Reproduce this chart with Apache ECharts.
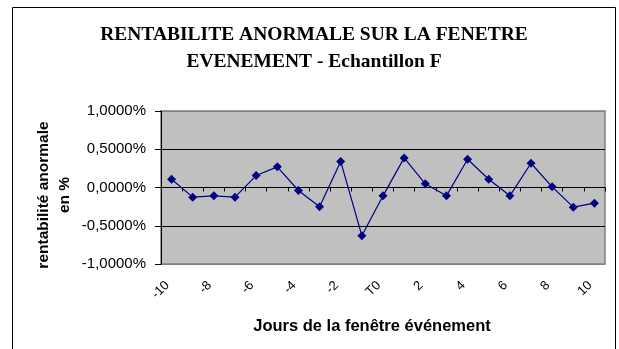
<!DOCTYPE html>
<html>
<head>
<meta charset="utf-8">
<script src="https://cdn.jsdelivr.net/npm/echarts@6/dist/echarts.min.js"></script>
<style>
  html, body { margin: 0; padding: 0; background: #fff; }
  #chart { width: 619px; height: 349px; }
</style>
</head>
<body>
<div id="chart"></div>
<script>
// Event-window days, T0 = event day
const days = ['-10','-9','-8','-7','-6','-5','-4','-3','-2','-1','T0','1','2','3','4','5','6','7','8','9','10'];
// Abnormal return per day, in percent
const abnormalReturn = [0.108, -0.126, -0.109, -0.126, 0.156, 0.270, -0.039, -0.252, 0.339, -0.630,
                        -0.109, 0.387, 0.048, -0.109, 0.369, 0.108, -0.109, 0.317, 0.009, -0.257, -0.205];
const yMin = -1, yMax = 1, yStep = 0.5;

const titleText = 'RENTABILITE ANORMALE SUR LA FENETRE\nEVENEMENT - Echantillon F';
const xTitle = 'Jours de la fenêtre événement';
const yTitle = 'rentabilité anormale\nen %';

const fmtPct = v => v.toFixed(4).replace('.', ',').replace('-0,0000', '0,0000') + '%';

const chart = echarts.init(document.getElementById('chart'), null, { renderer: 'canvas' });
chart.setOption({
  animation: false,
  backgroundColor: '#ffffff',
  grid: {
    left: 161, right: 14, top: 111, height: 153,
    show: true, backgroundColor: '#c0c0c0', borderColor: '#808080', borderWidth: 1.5
  },
  xAxis: [
    {
      type: 'category', data: days, position: 'bottom', boundaryGap: true,
      axisLine: { show: false, onZero: false },
      axisTick: { show: false },
      axisLabel: {
        interval: 1, rotate: 45, margin: 15, padding: [0, 6, 0, 0],
        fontFamily: 'Arial, "Liberation Sans", sans-serif', fontSize: 13, color: '#000'
      }
    },
    {
      type: 'category', data: days, position: 'bottom', boundaryGap: true,
      axisLine: { show: true, onZero: true, lineStyle: { color: '#000', width: 1 } },
      axisTick: { show: true, interval: 0, length: 4, inside: false, lineStyle: { color: '#000' } },
      axisLabel: { show: false }
    }
  ],
  yAxis: {
    type: 'value', min: yMin, max: yMax, interval: yStep,
    axisLine: { show: true, lineStyle: { color: '#000', width: 1 } },
    axisTick: { show: true, length: 6, lineStyle: { color: '#000' } },
    axisLabel: {
      formatter: fmtPct, margin: 15,
      fontFamily: 'Arial, "Liberation Sans", sans-serif', fontSize: 15, color: '#000'
    },
    splitLine: { show: true, lineStyle: { color: ['#808080', '#000', '#000', '#000', '#808080'], width: 1 } }
  },
  series: [{
    type: 'line', data: abnormalReturn, xAxisIndex: 0,
    symbol: 'diamond', symbolSize: 9,
    lineStyle: { color: '#000080', width: 1.2 },
    itemStyle: { color: '#000080' },
    z: 5
  }],
  graphic: [
    {
      type: 'rect', silent: true,
      shape: { x: 12.5, y: 7.5, width: 603, height: 360 },
      style: { fill: null, stroke: '#000', lineWidth: 1 }
    },
    {
      type: 'text', x: 314, y: 21,
      style: {
        text: titleText, textAlign: 'center', textVerticalAlign: 'top',
        font: 'bold 19.5px "Liberation Serif", "Times New Roman", serif', lineHeight: 27.5, fill: '#000'
      }
    },
    {
      type: 'text', x: 372, y: 326,
      style: {
        text: xTitle, textAlign: 'center', textVerticalAlign: 'middle',
        font: 'bold 16.5px Arial, "Liberation Sans", sans-serif', fill: '#000'
      }
    },
    {
      type: 'text', x: 54, y: 195, rotation: Math.PI / 2,
      style: {
        text: yTitle, textAlign: 'center', textVerticalAlign: 'middle',
        font: 'bold 15.5px Arial, "Liberation Sans", sans-serif', lineHeight: 21, fill: '#000'
      }
    }
  ]
});
</script>
</body>
</html>
